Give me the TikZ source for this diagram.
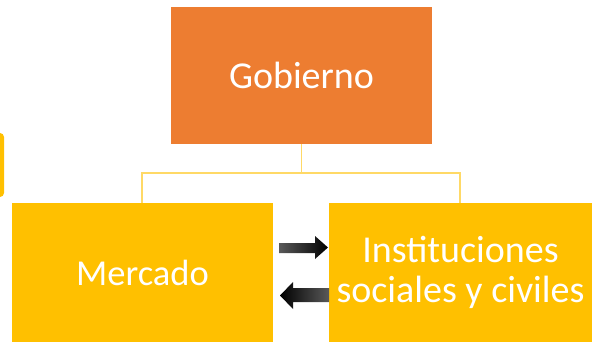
\documentclass[tikz,border=0pt]{standalone}
\usepackage{fontspec}
\setmainfont{Carlito}
\definecolor{orng}{HTML}{ED7D31}
\definecolor{yel}{HTML}{FFC000}
\definecolor{lyel}{HTML}{FFD966}
\begin{document}
\begin{tikzpicture}[x=1pt,y=-1pt,
  box/.style={rectangle, inner sep=0pt, outer sep=0pt, text=white, align=center},
  conn/.style={draw=lyel, line width=1.4pt}]
\clip (0,0) rectangle (592,342);
\useasboundingbox (0,0) rectangle (592,342);
% partial box at left edge
\fill[yel, rounded corners=4pt] (-20,133) rectangle (4,197);
\node[box, fill=orng, minimum width=261pt, minimum height=137pt,
  font=\fontsize{38}{40}\selectfont] (gob) at (301.5,75.5) {Gobierno};
\node[box, fill=yel, minimum width=261pt, minimum height=139pt,
  font=\fontsize{36.5}{40}\selectfont] (merc) at (142.5,272.5) {\raisebox{-2pt}{Mercado}};
\node[box, fill=yel, minimum width=263pt, minimum height=139pt,
  font=\fontsize{38}{40}\selectfont] (inst) at (460.5,272.5) {Instituciones\\sociales y civiles};
\coordinate (hub) at ([yshift=-29pt]gob.south);
\draw[conn] (gob.south) -- (hub);
\draw[conn] (hub) -| ([xshift=-0.5pt]merc.north);
\draw[conn] (hub) -| ([xshift=-0.5pt]inst.north);
% arrows
\shade[left color=black!65, right color=black]
  (279,243) -- (315,243) -- (315,236) -- (328,247.5) -- (315,259) -- (315,253) -- (279,253) -- cycle;
\shade[left color=black, right color=black!65]
  (329,288) -- (293,288) -- (293,282) -- (280,295.5) -- (293,309) -- (293,302) -- (329,302) -- cycle;
\end{tikzpicture}
\end{document}
